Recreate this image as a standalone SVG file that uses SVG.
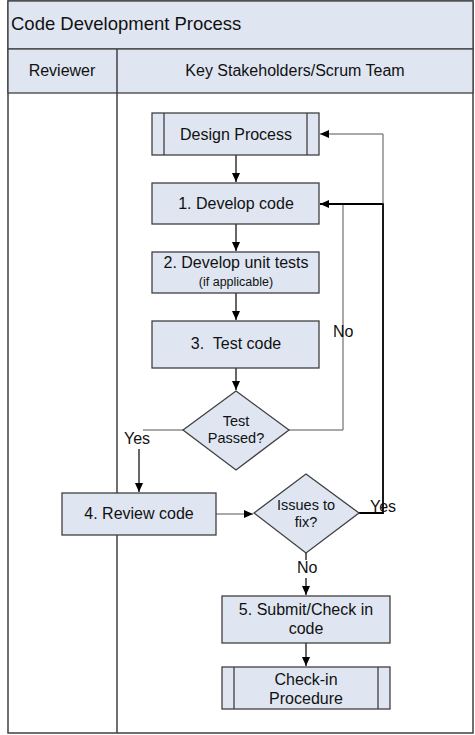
<svg xmlns="http://www.w3.org/2000/svg" width="475" height="735" viewBox="0 0 475 735">
<style>
text{font-family:"Liberation Sans",Arial,sans-serif;fill:#111}
.box{fill:#dfe6f2;stroke:#404040;stroke-width:1.3}
.hdr{fill:#dfe6f2;stroke:#404040;stroke-width:1.3}
.ln{fill:none;stroke:#000;stroke-width:1.2}
.lg{fill:none;stroke:#555;stroke-width:1}
.t{font-size:16px;text-anchor:middle}
.d{font-size:14.5px;text-anchor:middle}
.s{font-size:12.5px;text-anchor:middle}
.lbl{font-size:16px}
</style>
<defs>
<marker id="ah" markerWidth="10" markerHeight="10" refX="9" refY="5" orient="auto" markerUnits="userSpaceOnUse">
<path d="M0,1 L9,5 L0,9 z" fill="#000"/>
</marker>
</defs>
<rect x="0" y="0" width="475" height="735" fill="#fff"/>
<g id="pool">
<rect x="8" y="1" width="465" height="732" fill="#fff" stroke="#404040" stroke-width="1.5"/>
<rect class="hdr" x="8" y="1" width="465" height="48"/>
<text x="11" y="30" style="font-size:18.5px">Code Development Process</text>
<rect class="hdr" x="8" y="49" width="465" height="44"/>
<line x1="117" y1="49" x2="117" y2="733" stroke="#404040" stroke-width="1.5"/>
<text class="t" x="62" y="76">Reviewer</text>
<text class="t" x="295" y="76">Key Stakeholders/Scrum Team</text>
</g>
<g id="connectors">
<line class="ln" x1="236" y1="155" x2="236" y2="182" marker-end="url(#ah)"/>
<line class="ln" x1="236" y1="224" x2="236" y2="251" marker-end="url(#ah)"/>
<line class="ln" x1="236" y1="293" x2="236" y2="320" marker-end="url(#ah)"/>
<line class="ln" x1="236" y1="368" x2="236" y2="390" marker-end="url(#ah)"/>
<polyline class="lg" points="289,430 343,430 343,204"/>
<polyline class="ln" points="359,513 383,513 383,204 320,204" style="stroke-width:1.8" marker-end="url(#ah)"/>
<polyline class="lg" points="383,204 383,134 320,134" marker-end="url(#ah)"/>
<line class="lg" x1="183" y1="430" x2="143" y2="430"/>
<line class="ln" x1="139" y1="449" x2="139" y2="492" marker-end="url(#ah)"/>
<line class="lg" x1="216" y1="514" x2="253" y2="514" marker-end="url(#ah)"/>
<line class="ln" x1="306" y1="553" x2="306" y2="560"/>
<line class="ln" x1="306" y1="578" x2="306" y2="595" marker-end="url(#ah)"/>
<line class="ln" x1="306" y1="643" x2="306" y2="666" marker-end="url(#ah)"/>
<text class="lbl" x="333" y="337">No</text>
<text class="lbl" x="124" y="444">Yes</text>
<text class="lbl" x="370" y="512">Yes</text>
<text class="lbl" x="297" y="573">No</text>
</g>
<g id="design-process">
<rect class="box" x="152" y="113" width="167" height="42"/>
<line x1="164" y1="113" x2="164" y2="155" stroke="#404040" stroke-width="1.3"/>
<line x1="307" y1="113" x2="307" y2="155" stroke="#404040" stroke-width="1.3"/>
<text class="t" x="236" y="140">Design Process</text>
</g>
<g id="develop-code">
<rect class="box" x="152" y="183" width="167" height="41"/>
<text class="t" x="236" y="209">1. Develop code</text>
</g>
<g id="develop-tests">
<rect class="box" x="152" y="252" width="167" height="41"/>
<text class="t" x="236" y="268">2. Develop unit tests</text>
<text class="s" x="236" y="286">(if applicable)</text>
</g>
<g id="test-code">
<rect class="box" x="152" y="321" width="167" height="47"/>
<text class="t" x="236" y="349" xml:space="preserve">3.  Test code</text>
</g>
<g id="test-passed">
<polygon class="box" points="236,391 289,430 236,470 183,430"/>
<text class="d" x="236" y="426">Test</text>
<text class="d" x="236" y="443">Passed?</text>
</g>
<g id="review-code">
<rect class="box" x="62" y="493" width="154" height="42"/>
<text class="t" x="139" y="519">4. Review code</text>
</g>
<g id="issues">
<polygon class="box" points="306,474 359,513 306,553 254,513"/>
<text class="d" x="306" y="510">Issues to</text>
<text class="d" x="306" y="527">fix?</text>
</g>
<g id="submit">
<rect class="box" x="222" y="596" width="168" height="47"/>
<text class="t" x="306" y="615">5. Submit/Check in</text>
<text class="t" x="306" y="634">code</text>
</g>
<g id="checkin-procedure">
<rect class="box" x="222" y="667" width="168" height="42"/>
<line x1="234" y1="667" x2="234" y2="709" stroke="#404040" stroke-width="1.3"/>
<line x1="378" y1="667" x2="378" y2="709" stroke="#404040" stroke-width="1.3"/>
<text class="t" x="306" y="685">Check-in</text>
<text class="t" x="306" y="704">Procedure</text>
</g>
</svg>
